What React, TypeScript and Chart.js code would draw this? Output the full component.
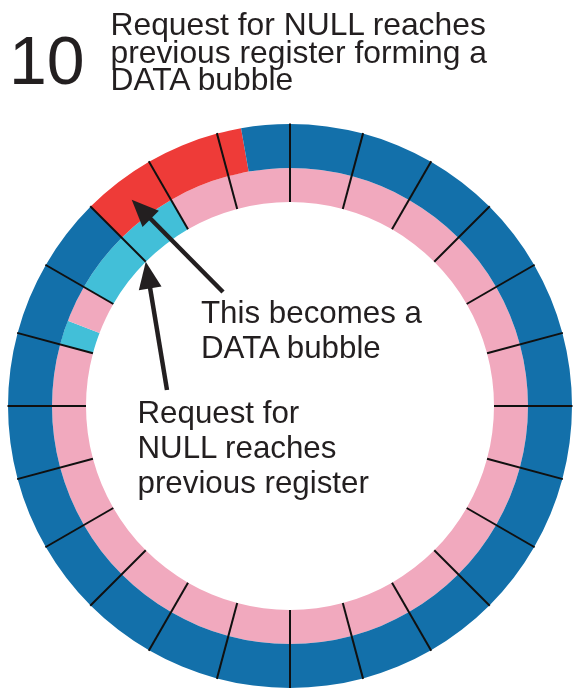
import React, { useEffect, useRef } from "react";
import { Chart, registerables } from "chart.js";

Chart.register(...registerables);

// ---- data ----
const registerCount = 24;

const segmentLabels = [
  "s1", "s2", "s3", "s4", "s5", "s6", "s7", "s8", "s9", "s10", "s11", "s12", "s13",
  "s14", "s15", "s16", "s17", "s18", "s19", "s20", "s21", "s22", "s23", "s24", "s25",
];

// outer ring: arc sizes in degrees, clockwise from the top
const outerValues = [
  15, 15, 15, 15, 15, 15, 15, 15, 15, 15, 15, 15, 15, 15, 15, 15, 15, 15, 15, 15, 15,
  15, 15, 5, 10,
];
const outerStates = [
  "empty", "empty", "empty", "empty", "empty", "empty", "empty", "empty", "empty", "empty",
  "empty", "empty", "empty", "empty", "empty", "empty", "empty", "empty", "empty", "empty",
  "empty", "data", "data", "data", "empty",
];

// inner ring: arc sizes in degrees, clockwise from the top
const innerValues = [
  15, 15, 15, 15, 15, 15, 15, 15, 15, 15, 15, 15, 15, 15, 15, 15, 15, 15, 15,
  6, 9, 15, 15, 15, 15,
];
const innerStates = [
  "token", "token", "token", "token", "token", "token", "token", "token", "token", "token",
  "token", "token", "token", "token", "token", "token", "token", "token", "token",
  "request", "token", "request", "request", "token", "token",
];

const stepNumber = "10";
const titleLines = ["Request for NULL reaches", "previous register forming a", "DATA bubble"];
const note1Lines = ["This becomes a", "DATA bubble"];
const note2Lines = ["Request for", "NULL reaches", "previous register"];

// ---- styles ----
const stateColors: Record<string, string> = {
  empty: "#1370aa",
  data: "#ee3b38",
  token: "#f1a9be",
  request: "#42bfd8",
};
const textColor = "#231f20";
const fontFamily = "'Liberation Sans', Arial, Helvetica, sans-serif";

const ringPlugin = {
  id: "ringDecor",
  afterDatasetsDraw(chart: any) {
    const outerMeta = chart.getDatasetMeta(0);
    const innerMeta = chart.getDatasetMeta(1);
    const first = outerMeta.data[0] as any;
    const innerFirst = innerMeta.data[0] as any;
    if (!first || !innerFirst) return;
    const cx = first.x;
    const cy = first.y;
    const rOut = first.outerRadius;
    const rIn = innerFirst.innerRadius;
    const start = first.startAngle;
    const ctx = chart.ctx;
    ctx.save();
    // register dividers
    ctx.strokeStyle = "#101010";
    ctx.lineWidth = 2;
    for (let i = 0; i < registerCount; i++) {
      const a = start + (i * Math.PI * 2) / registerCount;
      ctx.beginPath();
      ctx.moveTo(cx + Math.cos(a) * rIn, cy + Math.sin(a) * rIn);
      ctx.lineTo(cx + Math.cos(a) * (rOut + 0.5), cy + Math.sin(a) * (rOut + 0.5));
      ctx.stroke();
    }

    const arrow = (tx: number, ty: number, hx: number, hy: number) => {
      const ang = Math.atan2(hy - ty, hx - tx);
      const headLen = 27;
      const halfW = 11.5;
      const bx = hx - Math.cos(ang) * headLen;
      const by = hy - Math.sin(ang) * headLen;
      ctx.strokeStyle = textColor;
      ctx.fillStyle = textColor;
      ctx.lineWidth = 4.5;
      ctx.lineCap = "butt";
      ctx.beginPath();
      ctx.moveTo(tx, ty);
      ctx.lineTo(bx + Math.cos(ang) * 2, by + Math.sin(ang) * 2);
      ctx.stroke();
      ctx.beginPath();
      ctx.moveTo(hx, hy);
      ctx.lineTo(bx + Math.cos(ang + Math.PI / 2) * halfW, by + Math.sin(ang + Math.PI / 2) * halfW);
      ctx.lineTo(bx + Math.cos(ang - Math.PI / 2) * halfW, by + Math.sin(ang - Math.PI / 2) * halfW);
      ctx.closePath();
      ctx.fill();
    };

    // arrow 1: to the middle of the first DATA register in the outer ring
    const dataIdx = outerStates.indexOf("data");
    const target1 = (outerMeta.data[dataIdx] as any).getCenterPoint();
    arrow(cx - 67, cy - 114, target1.x, target1.y);

    // arrow 2: to the inner edge of the boundary between the request registers
    const reqIdx = innerStates.lastIndexOf("request");
    const arc2 = innerMeta.data[reqIdx] as any;
    const a2 = arc2.startAngle;
    arrow(cx - 123, cy - 16, cx + Math.cos(a2) * arc2.innerRadius, cy + Math.sin(a2) * arc2.innerRadius);
    ctx.restore();
  },
};

function TextBlock({ lines, left, top, size, lineHeight }: { lines: string[]; left: number; top: number; size: number; lineHeight: number }) {
  return (
    <div
      style={{
        position: "absolute",
        left,
        top,
        fontFamily,
        fontSize: size,
        lineHeight: `${lineHeight}px`,
        color: textColor,
        whiteSpace: "nowrap",
      }}
    >
      {lines.map((l, i) => (
        <div key={i}>{l}</div>
      ))}
    </div>
  );
}

export default function App() {
  const canvasRef = useRef<HTMLCanvasElement | null>(null);

  useEffect(() => {
    if (!canvasRef.current) return;
    const chart = new Chart(canvasRef.current, {
      type: "doughnut",
      data: {
        labels: segmentLabels,
        datasets: [
          {
            data: outerValues,
            backgroundColor: outerStates.map((s) => stateColors[s]),
            borderWidth: 0,
            weight: 44,
          },
          {
            data: innerValues,
            backgroundColor: innerStates.map((s) => stateColors[s]),
            borderWidth: 0,
            weight: 34,
          },
        ],
      },
      options: {
        responsive: false,
        animation: false,
        devicePixelRatio: 1,
        cutout: "72.34%",
        layout: { padding: { left: 8, right: 1, top: 124, bottom: 0 } },
        plugins: {
          legend: { display: false },
          tooltip: { enabled: false },
          title: { display: false },
        },
        events: [],
      } as any,
      plugins: [ringPlugin],
    });
    return () => chart.destroy();
  }, []);

  return (
    <div style={{ position: "absolute", left: 0, top: 0, width: 573, height: 688, background: "#fff", overflow: "hidden" }}>
      <canvas ref={canvasRef} width={573} height={688} style={{ position: "absolute", left: 0, top: 0, display: "block" }} />
      <TextBlock lines={[stepNumber]} left={9} top={25.7} size={68} lineHeight={68} />
      <TextBlock lines={titleLines} left={110.5} top={11.2} size={31.8} lineHeight={27.5} />
      <TextBlock lines={note1Lines} left={201} top={295} size={31.3} lineHeight={35} />
      <TextBlock lines={note2Lines} left={137.5} top={395} size={31.3} lineHeight={35} />
    </div>
  );
}
